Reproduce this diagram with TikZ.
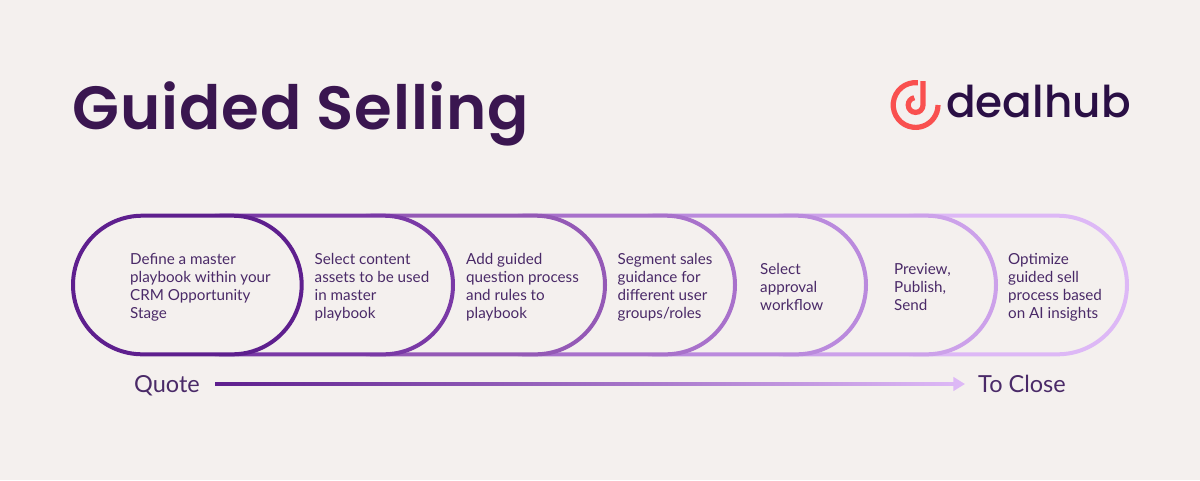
\documentclass[tikz,border=0pt]{standalone}
\usepackage{fontspec}
\usepackage{tikz}
\usetikzlibrary{arrows.meta,calc}
\setmainfont{Lato}
\newfontfamily\titlefont[LetterSpace=1.4]{Poppins SemiBold}
\newfontfamily\logofont{Poppins Medium}
\definecolor{paper}{HTML}{F4F0EE}
\definecolor{ink}{HTML}{4A2A68}
\definecolor{titleink}{HTML}{3A1650}
\definecolor{logoink}{HTML}{2A0F45}
\definecolor{logored}{HTML}{F9504F}
\definecolor{pillA}{HTML}{5E1F8E}
\definecolor{pillB}{HTML}{7A39A6}
\definecolor{pillC}{HTML}{9459B6}
\definecolor{pillD}{HTML}{A871CB}
\definecolor{pillE}{HTML}{BA8ADD}
\definecolor{pillF}{HTML}{CCA1EA}
\definecolor{pillG}{HTML}{DDB8F6}

\begin{document}
\begin{tikzpicture}[x=1pt,y=-1pt,>=Triangle,
    steptext/.style={anchor=west,align=left,inner sep=0pt,text=ink,font=\fontsize{15.2}{18}\selectfont},
    endtext/.style={inner sep=0pt,text=ink,text height=17pt,text depth=0pt,font=\fontsize{23.5}{28}\selectfont},
    pill/.style={line width=4pt,fill=paper,rounded corners=69.3pt},
    logostroke/.style={draw=logored,line width=5.2pt}]

% Background
\fill[paper] (0,0) rectangle (1200,480);
\useasboundingbox (0,0) rectangle (1200,480);

% Geometry constants
\def\T{215.7}         % top of the pills
\def\B{354.3}         % bottom of the pills

% Title
\node[anchor=base west,inner sep=0pt,text=titleink,font=\titlefont\fontsize{61}{70}\selectfont] (title) at (72.5,129.5) {Guided Selling};

% Logo
\coordinate (logo) at (915.6,105);
\draw[logostroke] ([shift={(84:22.4pt)}]logo) arc[start angle=84,end angle=360,radius=22.4pt];
\draw[logostroke] (923,81) -- (923,105) arc[start angle=0,end angle=-260,radius=7.4pt];
\node[anchor=base west,inner sep=0pt,text=logoink,font=\logofont\fontsize{43.8}{50}\selectfont] (dealhub) at (946,117) {dealhub};

% Pills, back to front
\foreach \l/\r/\c in {846/1127/pillG,716/996/pillF,585/866/pillE,455/735/pillD,303/605/pillC,152/453/pillB,73/301.7/pillA}
  \draw[pill,draw=\c] (\l,\T) rectangle (\r,\B);

% Texts in the pills
\node[steptext] (define) at (130,287) {Define a master\\playbook within your\\CRM Opportunity\\Stage};
\node[steptext] (content) at (314.5,287) {Select content\\assets to be used\\in master\\playbook};
\node[steptext] (question) at (466,287) {Add guided\\question process\\and rules to\\playbook};
\node[steptext] (segment) at (617.5,287) {Segment sales\\guidance for\\different user\\groups/roles};
\node[steptext] (approval) at (760,287) {Select\\approval\\workflow};
\node[steptext] (preview) at (894,287) {Preview,\\Publish,\\Send};
\node[steptext] (optimize) at (1008,287) {Optimize\\guided sell\\process based\\on AI insights};

% Bottom arrow
\node[endtext,anchor=east] (quote) at (200,384) {Quote};
\node[endtext,anchor=west] (close) at (978,384) {To Close};
\draw[->,line width=3pt,draw=pillG,shorten <=15pt,shorten >=13pt] (quote.east) -- (close.west);
\shade[left color=pillA,right color=pillG] ($(quote.east)+(15,-1.5)$) rectangle ($(close.west)+(-22,1.5)$);

\end{tikzpicture}
\end{document}
